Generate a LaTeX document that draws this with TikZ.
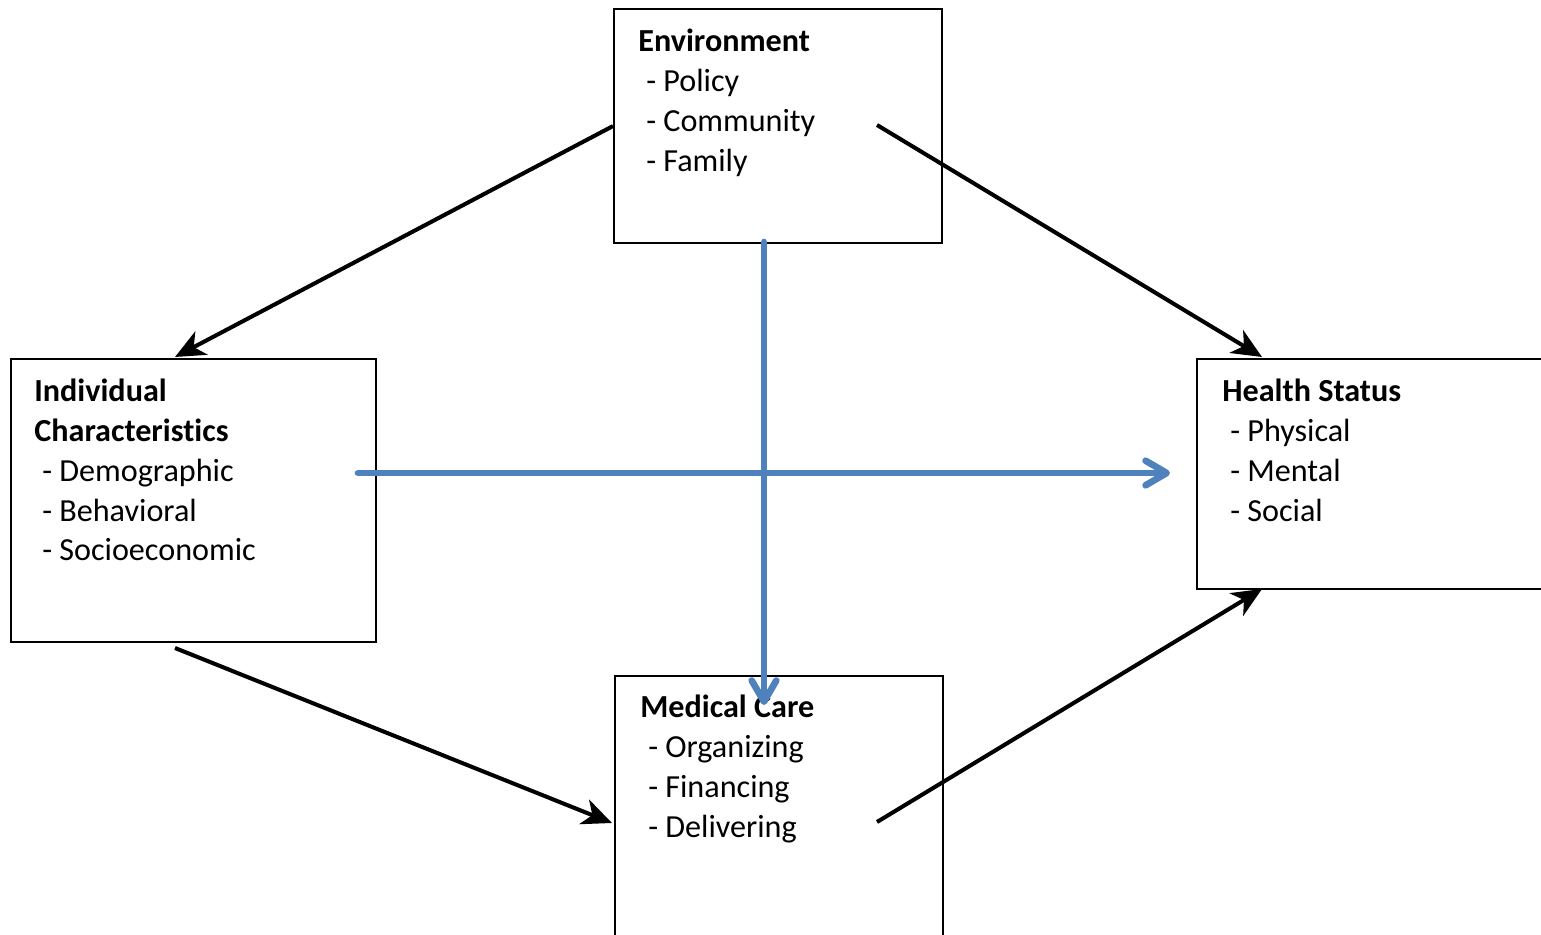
\documentclass[tikz,border=0pt]{standalone}
\usepackage{fontspec}
\setmainfont{Carlito}[RawFeature=-liga]
\usetikzlibrary{arrows.meta}
\definecolor{arrowblue}{HTML}{4F81BD}
\begin{document}
\begin{tikzpicture}[x=0.02cm,y=-0.02cm,
  box/.style={draw=black,line width=1.2pt,rectangle,inner sep=0pt,anchor=north west},
  blocktext/.style={anchor=north west,inner sep=0pt,align=left,
    font=\fontsize{18.3pt}{22.6pt}\selectfont},
  blackarrow/.style={line width=2.3pt,-{Stealth[length=17pt,width=15pt,inset=5pt]}},
  bluearrow/.style={draw=arrowblue,line width=3.8pt,line cap=round,
    -{Straight Barb[length=12pt,width=14pt,line cap=round,line join=round]}}]
\useasboundingbox (0,0) rectangle (1541,935);
\begin{scope}
\clip (0,0) rectangle (1541,935);
% boxes
\node[box,minimum width=328*0.02cm,minimum height=234*0.02cm] (env) at (613,8) {};
\node[box,minimum width=365*0.02cm,minimum height=283*0.02cm] (ind) at (10,358) {};
\node[box,minimum width=360*0.02cm,minimum height=230*0.02cm] (hs) at (1196,358) {};
\node[box,minimum width=328*0.02cm,minimum height=280*0.02cm] (mc) at (614,675) {};
\end{scope}
% texts
\node[blocktext] (envt) at (638,29) {\textbf{Environment}\\\hspace{4.5pt}- Policy\\\hspace{4.5pt}- Community\\\hspace{4.5pt}- Family};
\node[blocktext] (indt) at (34,379) {\textbf{Individual}\\\textbf{Characteristics}\\\hspace{4.5pt}- Demographic\\\hspace{4.5pt}- Behavioral\\\hspace{4.5pt}- Socioeconomic};
\node[blocktext] (hst) at (1222,379) {\textbf{Health Status}\\\hspace{4.5pt}- Physical\\\hspace{4.5pt}- Mental\\\hspace{4.5pt}- Social};
\node[blocktext] (mct) at (640,695) {\textbf{Medical Care}\\\hspace{4.5pt}- Organizing\\\hspace{4.5pt}- Financing\\\hspace{4.5pt}- Delivering};
% connector ends
\coordinate (a2s) at (877,125);
\coordinate (a4s) at (877,822);
\coordinate (indtop) at (175,357);
\coordinate (indbot) at (175,648);
\coordinate (hstop) at (1262,357);
\coordinate (hsbot) at (1262,589);
\coordinate (mcleft) at (612,823);
\coordinate (envbot) at (764,242);
\coordinate (mctip) at (764,705);
\coordinate (indmid) at (358,473);
\coordinate (hsleft) at (1170,473);
% black arrows
\draw[blackarrow] (env.west) -- (indtop);
\draw[blackarrow] (a2s) -- (hstop);
\draw[blackarrow] (indbot) -- (mcleft);
\draw[blackarrow] (a4s) -- (hsbot);
% blue arrows
\draw[bluearrow] (envbot) -- (mctip);
\draw[bluearrow] (indmid) -- (hsleft);
\end{tikzpicture}
\end{document}
